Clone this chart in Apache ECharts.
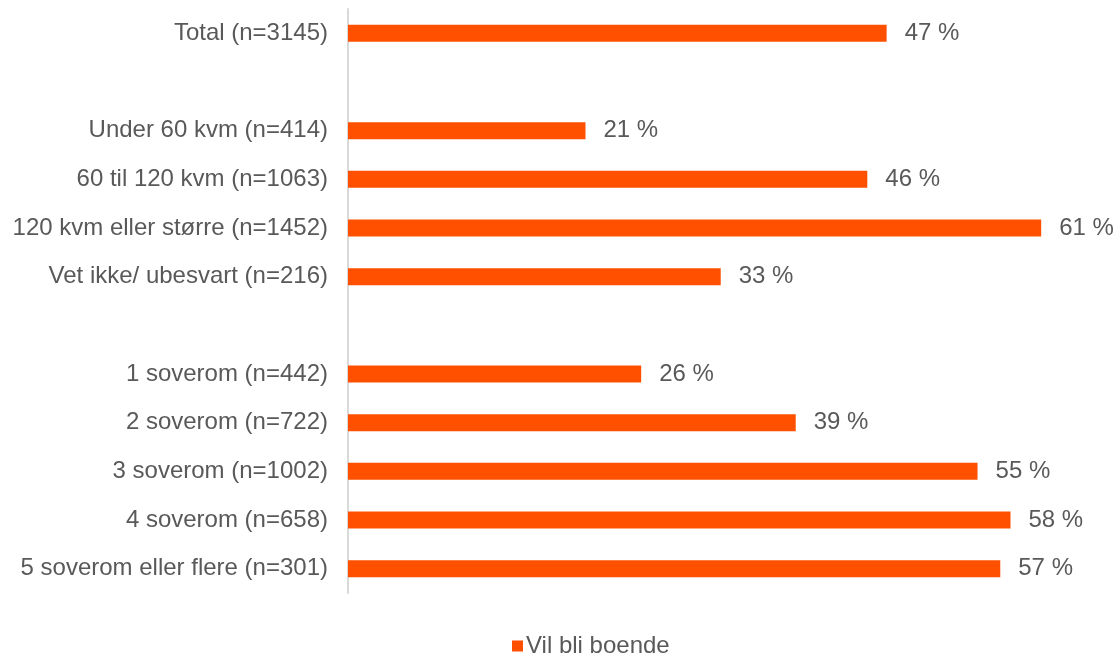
<!DOCTYPE html>
<html>
<head>
<meta charset="utf-8">
<script src="https://cdn.jsdelivr.net/npm/echarts@6/dist/echarts.min.js"></script>
<style>
html,body{margin:0;padding:0;background:#fff;}
#chart{width:1114px;height:653px;}
</style>
</head>
<body>
<div id="chart"></div>
<script>
var categories = [
  'Total (n=3145)', ' ',
  'Under 60 kvm (n=414)', '60 til 120 kvm (n=1063)', '120 kvm eller større (n=1452)', 'Vet ikke/ ubesvart (n=216)', '  ',
  '1 soverom (n=442)', '2 soverom (n=722)', '3 soverom (n=1002)', '4 soverom (n=658)', '5 soverom eller flere (n=301)'
];
var seriesName = 'Vil bli boende';
var values = [47.4, null, 20.9, 45.7, 61.0, 32.8, null, 25.8, 39.4, 55.4, 58.3, 57.4];

var chart = echarts.init(document.getElementById('chart'));
chart.setOption({
  animation: false,
  textStyle: { fontFamily: 'Liberation Sans, Arial, sans-serif' },
  grid: { left: 348, right: 16, top: 9, bottom: 60, containLabel: false },
  xAxis: { type: 'value', min: 0, max: 66, show: false },
  yAxis: {
    type: 'category', data: categories, inverse: true,
    axisLine: { show: true, lineStyle: { color: '#d9d9d9', width: 2 } },
    axisTick: { show: false },
    axisLabel: { color: '#595959', fontSize: 24, margin: 20, padding: [4, 0, 0, 0] }
  },
  legend: {
    data: [seriesName], left: 507, top: 629, icon: 'rect', itemWidth: 11, itemHeight: 11, itemGap: 6,
    textStyle: { color: '#595959', fontSize: 24, padding: [0, 0, 0, -2] }
  },
  series: [{
    name: seriesName, type: 'bar', data: values, barWidth: 17,
    itemStyle: { color: '#FF5000' },
    label: {
      show: true, position: 'right', distance: 18, color: '#595959', fontSize: 24, padding: [4, 0, 0, 0],
      formatter: function (p) { return p.value == null ? '' : Math.round(p.value) + ' %'; }
    }
  }]
});
</script>
</body>
</html>
